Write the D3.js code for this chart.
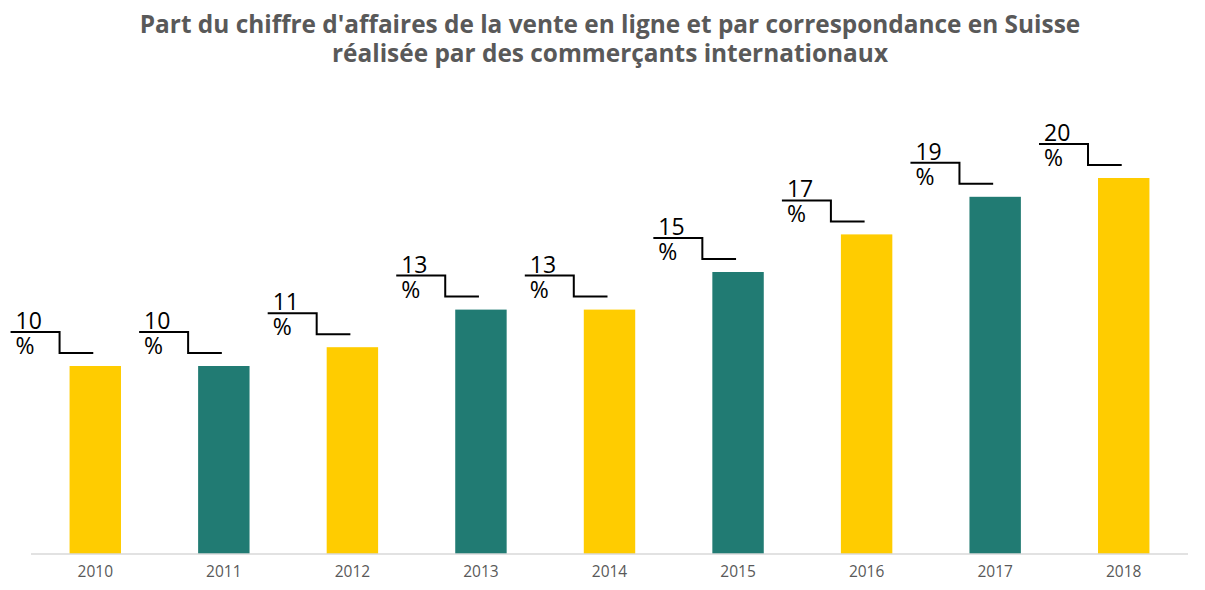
<!DOCTYPE html>
<html><head><meta charset="utf-8">
<script src="https://cdn.jsdelivr.net/npm/d3@7"></script>
<style>body{margin:0;background:#fff}svg{display:block}</style>
</head><body>
<svg id="c" width="1205" height="590"></svg>
<script>
const years = ["2010","2011","2012","2013","2014","2015","2016","2017","2018"];
const shares = [10,10,11,13,13,15,17,19,20];
const barColors = ["#FFCC00","#217B73","#FFCC00","#217B73","#FFCC00","#217B73","#FFCC00","#217B73","#FFCC00"];
const titleLines = ["Part du chiffre d'affaires de la vente en ligne et par correspondance en Suisse","réalisée par des commerçants internationaux"];

const svg = d3.select("#c");
const base = 554;
const x = d3.scaleBand().domain(years).range([31,1188]).paddingInner(0.6).paddingOuter(0.3);
const y = d3.scaleLinear().domain([0,20]).range([base,178]);

svg.append("g").selectAll("text").data(titleLines).join("text")
  .attr("x",610).attr("y",(d,i)=>33+i*29)
  .attr("text-anchor","middle").attr("font-family","Open Sans").attr("font-weight",700)
  .attr("font-size",24.4).attr("fill","#595959").text(d=>d);

svg.append("g").selectAll("rect").data(years).join("rect")
  .attr("x",d=>x(d)).attr("y",(d,i)=>y(shares[i]))
  .attr("width",x.bandwidth()).attr("height",(d,i)=>base-y(shares[i]))
  .attr("fill",(d,i)=>barColors[i]);

const ax = svg.append("g").attr("transform",`translate(0,${base})`)
  .call(d3.axisBottom(x).tickSize(0).tickPadding(12));
ax.select(".domain").attr("stroke","#d9d9d9").attr("stroke-width",1.5).attr("d","M31,0H1188");
ax.selectAll("text").attr("font-family","Open Sans").attr("font-size",15.5).attr("fill","#595959");

const lab = svg.append("g").selectAll("g").data(years).join("g");
lab.append("path")
  .attr("d",(d,i)=>{const l=x(d), t=y(shares[i]), c=l+x.bandwidth()/2;
    return `M${l-59},${t-34}H${l-10}V${t-13}H${c-2}`;})
  .attr("fill","none").attr("stroke","#000").attr("stroke-width",2);
const lt = lab.append("text")
  .attr("font-family","Open Sans").attr("font-size",23).attr("fill","#000");
lt.append("tspan").attr("x",d=>x(d)-54).attr("y",(d,i)=>y(shares[i])-37).text((d,i)=>shares[i]);
lt.append("tspan").attr("x",d=>x(d)-54).attr("y",(d,i)=>y(shares[i])-12).text("%");
</script>
</body></html>
